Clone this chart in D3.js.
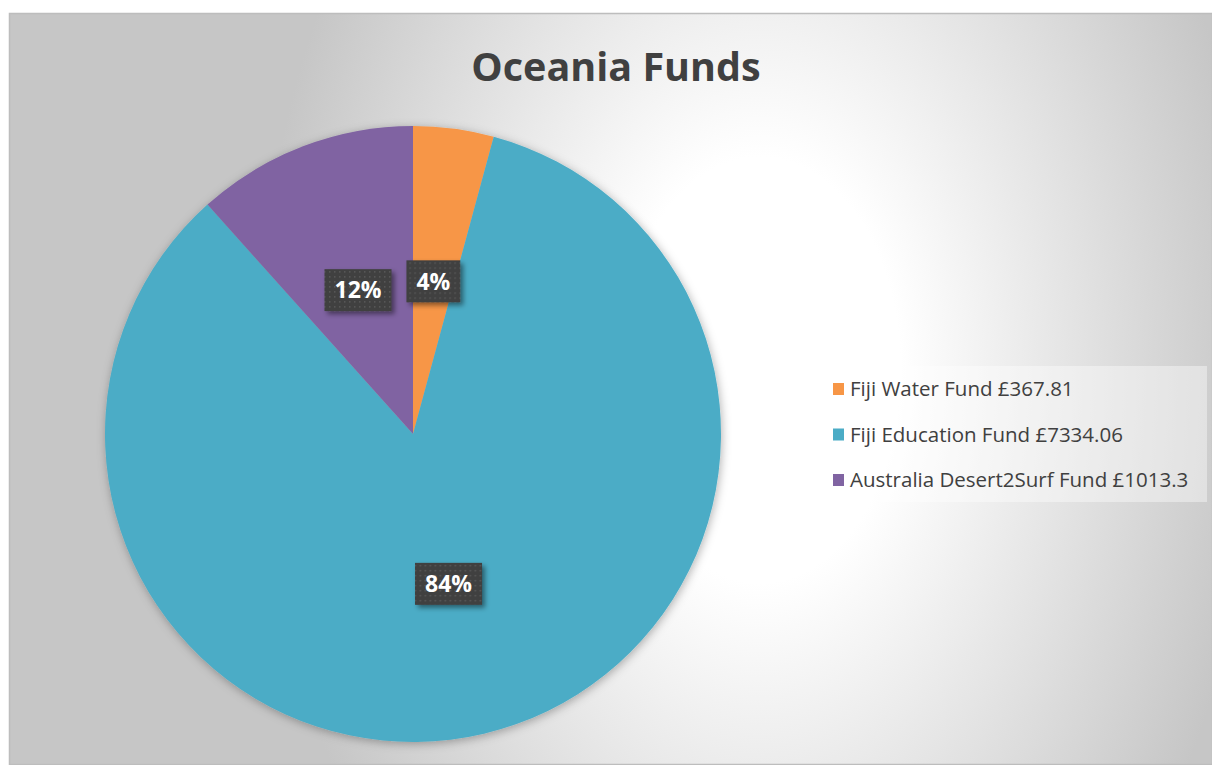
<!DOCTYPE html>
<html>
<head>
<meta charset="utf-8">
<script src="https://cdn.jsdelivr.net/npm/d3@7/dist/d3.min.js"></script>
<style>
  html, body { margin: 0; padding: 0; background: #ffffff; }
  svg { display: block; }
</style>
</head>
<body>
<svg id="chart" width="1212" height="765"></svg>
<script>
// ---- data ----
const title = "Oceania Funds";
const categories = ["Fiji Water Fund", "Fiji Education Fund", "Australia Desert2Surf Fund"];
const values = [367.81, 7334.06, 1013.3];
const colors = ["#F79646", "#4BACC6", "#8064A2"];

// ---- layout ----
const W = 1212, H = 765;
const svg = d3.select("#chart");
const defs = svg.append("defs");

// background gradient
const bg = defs.append("radialGradient")
  .attr("id", "bgGrad")
  .attr("gradientUnits", "userSpaceOnUse")
  .attr("cx", 760).attr("cy", 370).attr("r", 760)
  .attr("gradientTransform", "translate(760,370) scale(0.66,1) translate(-760,-370)");
bg.append("stop").attr("offset", 0).attr("stop-color", "#ffffff");
bg.append("stop").attr("offset", 0.28).attr("stop-color", "#ffffff");
bg.append("stop").attr("offset", 1).attr("stop-color", "#c6c6c6");

// pie shadow
const ps = defs.append("filter").attr("id", "pieShadow")
  .attr("x", "-20%").attr("y", "-20%").attr("width", "140%").attr("height", "140%");
ps.append("feDropShadow").attr("dx", 1).attr("dy", 2).attr("stdDeviation", 5)
  .attr("flood-color", "#000").attr("flood-opacity", 0.3);

// label shadow
const ls = defs.append("filter").attr("id", "lblShadow")
  .attr("x", "-30%").attr("y", "-30%").attr("width", "170%").attr("height", "170%");
ls.append("feDropShadow").attr("dx", 3).attr("dy", 3).attr("stdDeviation", 2.5)
  .attr("flood-color", "#000").attr("flood-opacity", 0.45);

// dotted pattern for data labels
const pat = defs.append("pattern").attr("id", "dots")
  .attr("patternUnits", "userSpaceOnUse").attr("width", 5).attr("height", 5);
pat.append("rect").attr("width", 5).attr("height", 5).attr("fill", "#3f3f3f");
pat.append("rect").attr("x", 1).attr("y", 1).attr("width", 1.5).attr("height", 1.5).attr("fill", "#5a5a5a");

// chart area
svg.append("rect")
  .attr("x", 9.5).attr("y", 13.5).attr("width", W - 9).attr("height", H - 14)
  .attr("fill", "url(#bgGrad)")
  .attr("stroke", "#bdbdbd").attr("stroke-width", 1.5);

// title
svg.append("text")
  .attr("x", 616).attr("y", 81)
  .attr("text-anchor", "middle")
  .attr("font-family", "'Open Sans', sans-serif")
  .attr("font-weight", 700)
  .attr("font-size", 39.5)
  .attr("fill", "#404040")
  .text(title);

// pie
const cx = 413, cy = 434, R = 308;
const total = d3.sum(values);
const pie = d3.pie().sort(null).value(d => d);
const arcs = pie(values);
const arc = d3.arc().innerRadius(0).outerRadius(R);
const labelArc = d3.arc().innerRadius(R / 2).outerRadius(R / 2);

const g = svg.append("g").attr("transform", `translate(${cx},${cy})`);
g.append("g").attr("filter", "url(#pieShadow)")
  .selectAll("path").data(arcs).join("path")
  .attr("d", arc)
  .attr("fill", (d, i) => colors[i]);

// data labels
const pct = d3.format(".0%");
const lbl = g.selectAll("g.lbl").data(arcs).join("g")
  .attr("class", "lbl")
  .attr("transform", d => `translate(${labelArc.centroid(d)})`);
lbl.each(function(d) {
  const sel = d3.select(this);
  const t = sel.append("text")
    .attr("text-anchor", "middle")
    .attr("dy", "0.36em")
    .attr("font-family", "'Open Sans', sans-serif")
    .attr("font-weight", 700)
    .attr("font-size", 23)
    .attr("fill", "#ffffff")
    .text(pct(d.value / total));
  const w = t.node().getComputedTextLength() + 20;
  const h = 42;
  sel.insert("rect", "text")
    .attr("x", -w / 2).attr("y", -h / 2)
    .attr("width", w).attr("height", h)
    .attr("fill", "url(#dots)")
    .attr("filter", "url(#lblShadow)");
});

// legend
const lg = svg.append("g");
lg.append("rect")
  .attr("x", 817).attr("y", 366).attr("width", 390).attr("height", 136)
  .attr("fill", "#ffffff").attr("fill-opacity", 0.4);
const rows = lg.selectAll("g.row").data(categories).join("g")
  .attr("class", "row")
  .attr("transform", (d, i) => `translate(833, ${389 + i * 45.5})`);
rows.append("rect")
  .attr("x", 0).attr("y", -6).attr("width", 11).attr("height", 12)
  .attr("fill", (d, i) => colors[i]);
rows.append("text")
  .attr("x", 17).attr("y", 7)
  .attr("font-family", "'Open Sans', sans-serif")
  .attr("font-size", 20.5)
  .attr("fill", "#404040")
  .text((d, i) => `${d} £${values[i]}`);
</script>
</body>
</html>
